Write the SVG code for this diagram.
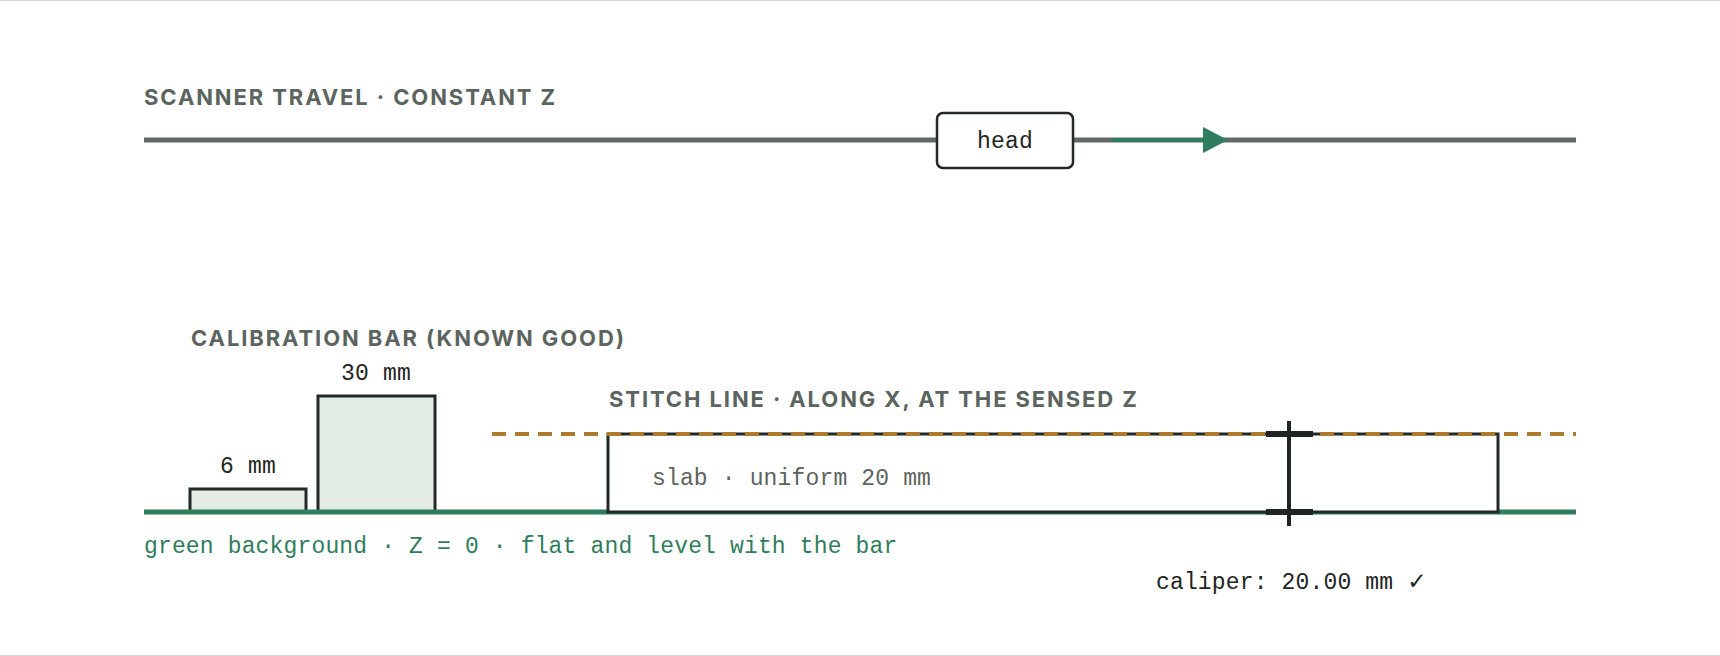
<svg xmlns="http://www.w3.org/2000/svg" width="1720" height="656" viewBox="0 0 1720 656">
<style>
.title{font-family:Inter,"Liberation Sans",sans-serif;font-weight:700;font-size:22px;letter-spacing:1.9px;fill:#5b645e}
.mono{font-family:"Liberation Mono","DejaVu Sans Mono",monospace;font-size:23px;letter-spacing:0.15px}
.dark{fill:#1f2522}
.gray{fill:#5b645e}
.green{fill:#2f7d5c}
.bar{fill:#e3ede6;stroke:#232925;stroke-width:3}
</style>
<defs>
<marker id="arr" viewBox="0 0 25 26" refX="0" refY="13" markerWidth="25" markerHeight="26" markerUnits="userSpaceOnUse" orient="auto"><path d="M0,0 L25,13 L0,26 Z" fill="#2f7d5c"/></marker>
</defs>
<rect x="0" y="0" width="1720" height="656" fill="#ffffff"/>
<line x1="0" y1="0.5" x2="1720" y2="0.5" stroke="#d6d6d6" stroke-width="1"/>
<line x1="0" y1="655.5" x2="1720" y2="655.5" stroke="#d6d6d6" stroke-width="1"/>

<g id="travel">
<text class="title" x="144" y="105">SCANNER TRAVEL · CONSTANT Z</text>
<line x1="144" y1="140" x2="1576" y2="140" stroke="#5f6a63" stroke-width="5"/>
</g>

<g id="connectors">
<line x1="1112" y1="140" x2="1203" y2="140" stroke="#2f7d5c" stroke-width="4" marker-end="url(#arr)"/>
</g>

<g id="head">
<rect x="937" y="113" width="136" height="55" rx="6" fill="#ffffff" stroke="#232925" stroke-width="2.5"/>
<text class="mono dark" x="1005" y="148" text-anchor="middle">head</text>
</g>

<g id="calibration">
<text class="title" x="191" y="346">CALIBRATION BAR (KNOWN GOOD)</text>
<rect class="bar" x="190" y="489" width="116" height="23"/>
<rect class="bar" x="318" y="396" width="117" height="116"/>
<text class="mono dark" x="248" y="473" text-anchor="middle">6 mm</text>
<text class="mono dark" x="376" y="380" text-anchor="middle">30 mm</text>
</g>

<g id="ground">
<line x1="144" y1="512" x2="1576" y2="512" stroke="#2f7d5c" stroke-width="5"/>
<text class="mono green" x="144" y="553">green background · Z = 0 · flat and level with the bar</text>
</g>

<g id="slab">
<rect x="608" y="434" width="890" height="78" fill="#ffffff" stroke="#232925" stroke-width="3"/>
<text class="mono gray" x="652" y="485">slab · uniform 20 mm</text>
</g>

<g id="stitch">
<text class="title" x="609" y="407">STITCH LINE · ALONG X, AT THE SENSED Z</text>
<line x1="492" y1="434" x2="1576" y2="434" stroke="#b07a2e" stroke-width="4" stroke-dasharray="14 9"/>
</g>

<g id="caliper">
<line x1="1289" y1="421" x2="1289" y2="526" stroke="#1f2522" stroke-width="4"/>
<rect x="1266" y="431" width="47" height="6" fill="#1f2522"/>
<rect x="1266" y="509" width="47" height="6" fill="#1f2522"/>
<text class="mono dark" x="1156" y="589">caliper: 20.00 mm <tspan font-family="'DejaVu Sans',sans-serif">✓</tspan></text>
</g>
</svg>
